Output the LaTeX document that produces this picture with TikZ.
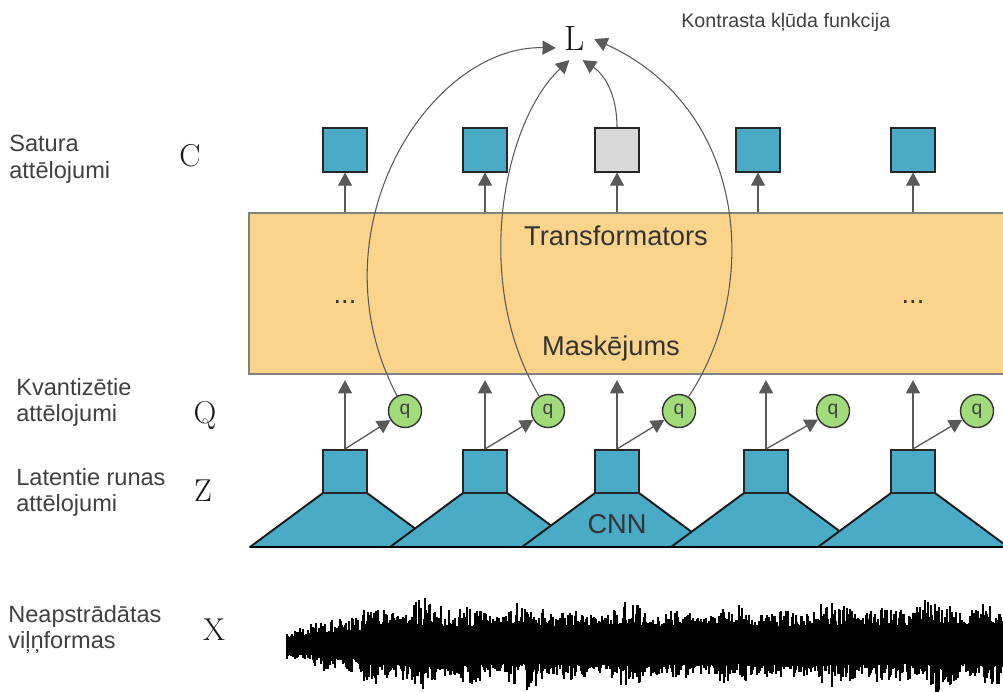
\documentclass[tikz,border=0pt]{standalone}
\usepackage{fontspec}
\newfontfamily\arialfont{Liberation Sans}
\usetikzlibrary{arrows.meta}

\definecolor{boxorange}{HTML}{FAD48A}
\definecolor{cnnblue}{HTML}{4AABC6}
\definecolor{qgreen}{HTML}{A2DC7A}
\definecolor{cgray}{HTML}{D9D9D9}
\definecolor{arrgray}{HTML}{595959}
\definecolor{txtgray}{HTML}{404040}

\tikzset{
  tbox/.style={draw=black!50, line width=1pt, fill=boxorange, minimum width=15.18cm, minimum height=3.22cm, inner sep=0pt},
  sqr/.style={draw=black!85, line width=0.9pt, fill=cnnblue, minimum size=0.87cm, inner sep=0pt},
  qnode/.style={circle, draw=black!80, line width=0.8pt, fill=qgreen, minimum size=0.66cm, inner sep=0pt, text=txtgray, font=\arialfont\fontsize{11}{11}\selectfont},
  arr/.style={draw=arrgray, line width=0.75pt, -{Triangle[length=7.5pt,width=8pt]}},
  curve/.style={draw=arrgray, line width=0.6pt, -{Triangle[length=7.5pt,width=8pt]}},
  lbl/.style={anchor=north west, align=left, inner sep=0pt, text=txtgray, font=\arialfont\fontsize{13.4}{15}\selectfont},
  boxtxt/.style={anchor=base, inner sep=0pt, text=black!80, font=\arialfont\fontsize{15.5}{15.5}\selectfont},
  sym/.style={anchor=base, inner sep=0pt, text=black!90, font=\fontsize{18}{18}\selectfont},
  cnn/.style={draw=black!90, line width=1.1pt, fill=cnnblue, line join=round},
  wave/.style={line width=0.9pt, black}
}

\begin{document}
\begin{tikzpicture}[x=0.02cm, y=-0.02cm]
\useasboundingbox (0,0) rectangle (1003,692);

\node[tbox] (tr) at (628.5,293.5) {};
\node[boxtxt] (trtxt) at (616,246) {Transformators};
\node[boxtxt] (mask) at (611,355) {Maskējums};
\node[boxtxt] (dots1) at (345,303) {...};
\node[boxtxt] (dots2) at (913,303) {...};

\foreach \i/\x/\col in {1/345/cnnblue,2/485/cnnblue,3/617/cgray,4/758/cnnblue,5/913/cnnblue}
{
    \node[sqr, fill=\col] (c\i) at (\x,150) {};
    \draw[arr] (c\i.south |- tr.north) -- (c\i.south);
}

\foreach \i/\x in {1/345,2/485,3/617,4/766,5/913}
{
    \draw[cnn] (\x-95,547) -- (\x-22,493) -- (\x+22,493) -- (\x+95,547) -- cycle;
    \draw[line width=1.7pt] (\x-95,547) -- (\x+97,547);
    \node[sqr] (z\i) at (\x,471.5) {};
}
\node[boxtxt] (cnntxt) at (617,533) {CNN};

\foreach \i/\x in {1/405,2/548,3/679,4/833,5/977}
{
    \node[qnode] (q\i) at (\x,411) {q};
    \draw[arr] (z\i.north) -- (q\i);
    \draw[arr, shorten >=3pt] (z\i.north) -- (z\i.north |- tr.south);
}

\node[sym, anchor=center, inner sep=5pt, font=\fontsize{20}{20}\selectfont] (L) at (575,39) {L};
\draw[curve] (q1) .. controls (310,230) and (430,45) .. (L.205);
\draw[curve] (q2) .. controls (470,280) and (505,120) .. (L.255);
\draw[curve] (c3.north) .. controls (617,95) and (605,75) .. (L.290);
\draw[curve] (q3) .. controls (760,290) and (750,110) .. (L.east);

\node[anchor=west, inner sep=0pt, text=txtgray, font=\arialfont\fontsize{11.2}{11.2}\selectfont] (kf) at (681,22) {Kontrasta kļūda funkcija};

\node[lbl] (lc) at (9,135) {Satura\\attēlojumi};
\node[lbl] (lq) at (16,378) {Kvantizētie\\attēlojumi};
\node[lbl] (lz) at (16,468) {Latentie runas\\attēlojumi};
\node[lbl] (lx) at (8,605) {Neapstrādātas\\viļņformas};

\node[sym] (symc) at (190,167) {C};
\node[sym] (symq) at (205,423) {Q};
\node[sym] (symz) at (203,501) {Z};
\node[sym] (symx) at (214,640) {X};

\pgfmathsetseed{11}
\foreach \x in {287,...,1002}
{
    \pgfmathsetmacro{\env}{(\x<362) ? 0.4+0.35*(\x-287)/75 : 1}
    \pgfmathsetmacro{\pk}{20+9*sin(\x*5.3)*cos(\x*1.7+20)+4*sin(\x*0.4)}
    \pgfmathsetmacro{\up}{\env*(19+\pk*rnd^1.6)}
    \pgfmathsetmacro{\dn}{\env*(19+\pk*rnd^1.6)}
    \draw[wave] (\x,645-\up) -- (\x,645+\dn);
}

\end{tikzpicture}
\end{document}
